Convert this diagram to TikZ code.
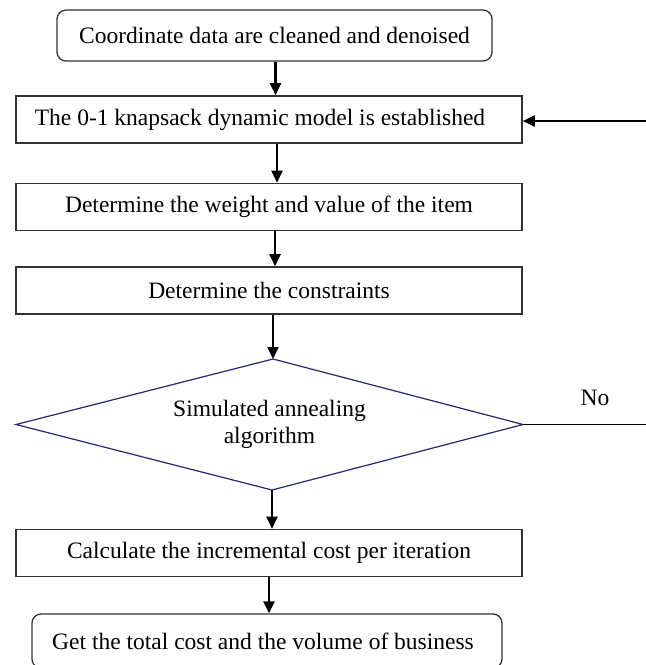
\documentclass[tikz,border=0pt]{standalone}
\usepackage{fontspec}
\setmainfont{Liberation Serif}
\usetikzlibrary{arrows.meta}
\begin{document}
\begin{tikzpicture}[x=1pt,y=-1pt,
  every node/.style={font=\fontsize{23.5}{27}\selectfont, inner sep=0pt},
  procbox/.style={draw=black!80, line width=1.6pt, minimum width=506pt, minimum height=47pt},
  termbox/.style={draw=black!80, line width=1.3pt, rounded corners=9pt},
  decide/.style={draw=blue!35!black!85, line width=1.2pt},
  flow/.style={line width=2.2pt, -{Triangle[length=12pt,width=11pt]}},
  plain/.style={line width=1.8pt}
]
\useasboundingbox (0,0) rectangle (646,665);

\node[termbox, minimum width=435pt, minimum height=51pt] (b1) at (274.5,35.5) {Coordinate data are cleaned and denoised};
\node[procbox] (b2) at (269,119.5) {The 0-1 knapsack dynamic model is established\hspace*{18pt}};
\node[procbox] (b3) at (269,207) {Determine the weight and value of the item};
\node[procbox] (b4) at (269,290.5) {Determine the constraints};
\node[align=center, font=\fontsize{23.5}{27}\selectfont] (d) at (269.5,424.5) {Simulated annealing\\algorithm};
\coordinate (dtop) at (273,359);
\coordinate (dleft) at (16,424.5);
\coordinate (dright) at (523,424.5);
\coordinate (dbot) at (272,490);
\draw[decide] (dtop) -- (dright) -- (dbot) -- (dleft) -- cycle;
\node[procbox] (b5) at (269,553) {Calculate the incremental cost per iteration};
\node[termbox, minimum width=470pt, minimum height=54pt] (b6) at (267,641) {Get the total cost and the volume of business\hspace*{8pt}};
\node (no) at (595,398) {No};

\coordinate (loopin) at (646,121);
\coordinate (noend) at (646,424.5);

\draw[flow] ([xshift=1pt]b1.south) -- ([xshift=1pt]b1.south |- b2.north);
\draw[flow] ([xshift=8pt]b2.south) -- ([xshift=8pt]b2.south |- b3.north);
\draw[flow] ([xshift=6pt]b3.south) -- ([xshift=6pt]b3.south |- b4.north);
\draw[flow] ([xshift=4pt]b4.south) -- (dtop);
\draw[flow] (dbot) -- (dbot |- b5.north);
\draw[flow] ([xshift=0pt]b5.south) -- ([xshift=0pt]b5.south |- b6.north);
\draw[flow] (loopin) -- (loopin -| b2.east);
\draw[plain] (dright) -- (noend);
\end{tikzpicture}
\end{document}
